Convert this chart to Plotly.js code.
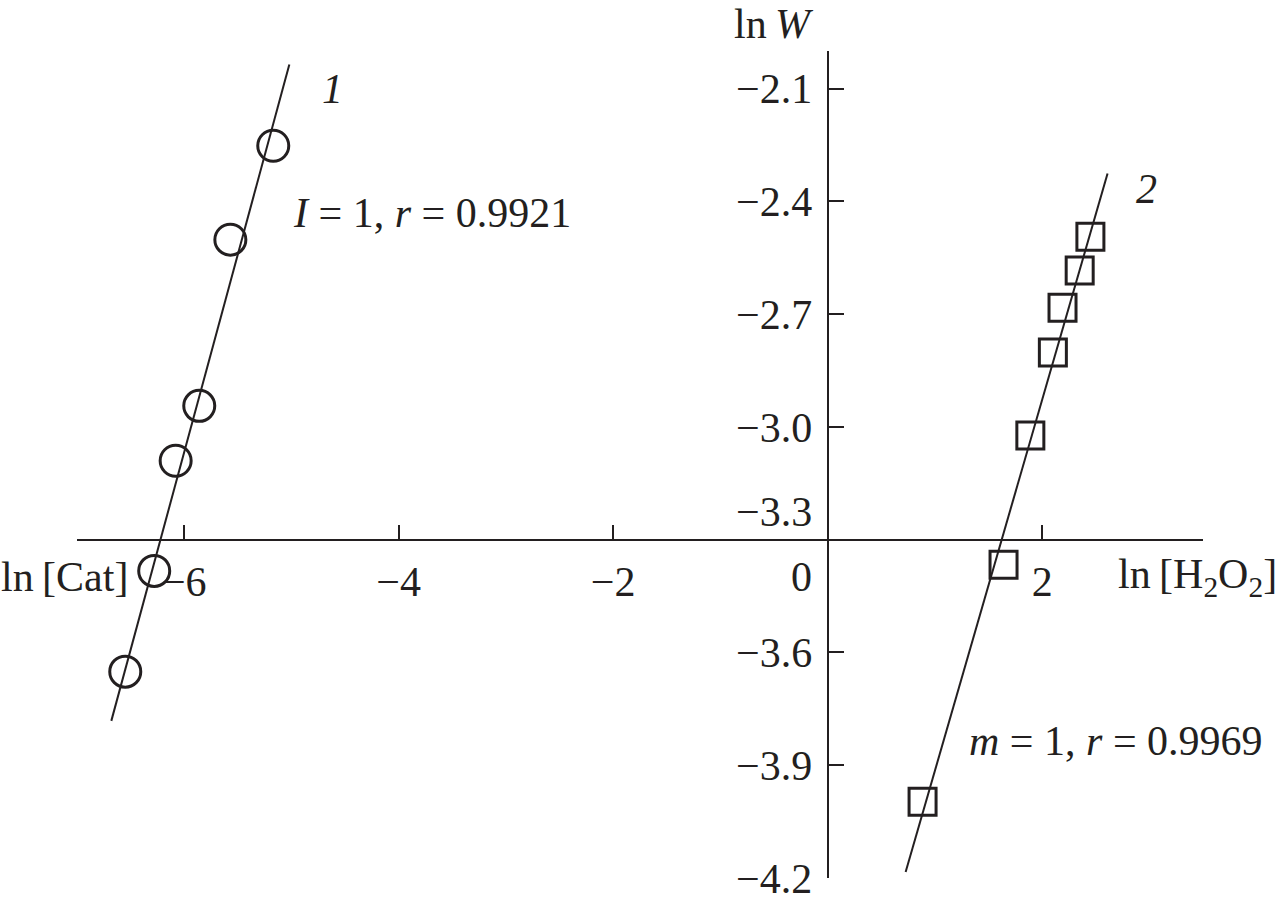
<!DOCTYPE html>
<html>
<head>
<meta charset="utf-8">
<script src="https://cdn.plot.ly/plotly-3.0.1.min.js"></script>
<style>html,body{margin:0;padding:0;background:#fff;}#chart{width:1283px;height:903px;}</style>
</head>
<body>
<div id="chart"></div>
<script>
// Series 1: ln W vs ln[Cat]
const cat_x = [-5.17, -5.57, -5.86, -6.08, -6.28, -6.55];
const cat_y = [-2.252, -2.502, -2.944, -3.090, -3.383, -3.651];
const cat_fit_x = [-6.68, -5.02];
const cat_fit_y = [-3.782, -2.036];
// Series 2: ln W vs ln[H2O2]
const h2o2_x = [2.45, 2.35, 2.19, 2.10, 1.89, 1.64, 0.885];
const h2o2_y = [-2.494, -2.584, -2.683, -2.802, -3.023, -3.367, -3.997];
const h2o2_fit_x = [0.727, 2.61];
const h2o2_fit_y = [-4.184, -2.326];
// Axis ticks
const xTickVals = [-6, -4, -2, 2];
const xTickText = ['\u22126', '\u22124', '\u22122', '2'];
const yTickVals = [-2.1, -2.4, -2.7, -3.0, -3.6, -3.9, -4.2];
const yTickText = ['\u22122.1', '\u22122.4', '\u22122.7', '\u22123.0', '\u22123.6', '\u22123.9', '\u22124.2'];
const xRange = [-7, 3.5];
const yRange = [-4.2, -2.0];
const xCross = -3.3; // y value where x-axis is drawn
const yCross = 0;    // x value where y-axis is drawn

const INK = '#231f20';
const FONT = 'Liberation Serif, Times New Roman, serif';
const FS = 42;

const traces = [
  {x: cat_fit_x, y: cat_fit_y, mode: 'lines', line: {color: INK, width: 2}, hoverinfo: 'skip'},
  {x: h2o2_fit_x, y: h2o2_fit_y, mode: 'lines', line: {color: INK, width: 2}, hoverinfo: 'skip'},
  {x: cat_x, y: cat_y, mode: 'markers', marker: {symbol: 'circle-open', size: 31, color: INK, line: {color: INK, width: 3}}},
  {x: h2o2_x, y: h2o2_y, mode: 'markers', marker: {symbol: 'square-open', size: 27, color: INK, line: {color: INK, width: 3}}}
];

const layout = {
  width: 1283, height: 903,
  margin: {l: 77, r: 80, t: 51, b: 25},
  paper_bgcolor: '#fff', plot_bgcolor: 'rgba(0,0,0,0)',
  showlegend: false,
  font: {family: FONT, size: FS, color: INK},
  xaxis: {
    range: xRange, anchor: 'free',
    position: (xCross - yRange[0]) / (yRange[1] - yRange[0]),
    showgrid: false, zeroline: false,
    showline: true, linecolor: INK, linewidth: 2.5,
    ticks: 'inside', ticklen: 14, tickwidth: 2, tickcolor: INK,
    tickvals: xTickVals, ticktext: xTickText,
    tickfont: {family: FONT, size: FS, color: INK},
    ticklabelstandoff: 4
  },
  yaxis: {
    range: yRange, anchor: 'free',
    position: (yCross - xRange[0]) / (xRange[1] - xRange[0]),
    showgrid: false, zeroline: false,
    showline: true, linecolor: INK, linewidth: 2.5,
    ticks: 'inside', ticklen: 15, tickwidth: 2, tickcolor: INK,
    tickvals: yTickVals, ticktext: yTickText,
    tickfont: {family: FONT, size: FS, color: INK},
    ticklabelstandoff: 6
  },
  annotations: [
    {xref: 'x', yref: 'paper', x: 0, y: 1, xanchor: 'center', yanchor: 'bottom', xshift: -54, yshift: 2,
     text: 'ln\u2009<i>W</i>', showarrow: false, font: {family: FONT, size: FS, color: INK}},
    {xref: 'paper', yref: 'y', x: 0, y: xCross, xanchor: 'left', yanchor: 'middle', xshift: -78, yshift: -37,
     text: 'ln\u2009[Cat]', showarrow: false, font: {family: FONT, size: FS, color: INK}},
    {xref: 'paper', yref: 'y', x: 1, y: xCross, xanchor: 'right', yanchor: 'middle', xshift: 76, yshift: -37,
     text: 'ln\u2009[H<sub>2</sub>O<sub>2</sub>]', showarrow: false, font: {family: FONT, size: FS, color: INK}},
    {xref: 'x', yref: 'y', x: yCross, y: xCross, xanchor: 'right', yanchor: 'middle', xshift: -14, yshift: 28,
     text: '\u22123.3', showarrow: false, font: {family: FONT, size: FS, color: INK}},
    {xref: 'x', yref: 'y', x: yCross, y: xCross, xanchor: 'right', yanchor: 'middle', xshift: -14, yshift: -37,
     text: '0', showarrow: false, font: {family: FONT, size: FS, color: INK}},
    {xref: 'x', yref: 'y', x: -4.62, y: -2.1, xanchor: 'center', yanchor: 'middle',
     text: '<i>1</i>', showarrow: false, font: {family: FONT, size: FS, color: INK}},
    {xref: 'x', yref: 'y', x: 2.97, y: -2.366, xanchor: 'center', yanchor: 'middle',
     text: '<i>2</i>', showarrow: false, font: {family: FONT, size: FS, color: INK}},
    {xref: 'x', yref: 'y', x: -5.0, y: -2.43, xanchor: 'left', yanchor: 'middle',
     text: '<i>I</i> = 1, <i>r</i> = 0.9921', showarrow: false, font: {family: FONT, size: FS, color: INK}},
    {xref: 'x', yref: 'y', x: 1.30, y: -3.835, xanchor: 'left', yanchor: 'middle',
     text: '<i>m</i> = 1, <i>r</i> = 0.9969', showarrow: false, font: {family: FONT, size: FS, color: INK}}
  ]
};

Plotly.newPlot('chart', traces, layout, {displayModeBar: false, staticPlot: true});
</script>
</body>
</html>
